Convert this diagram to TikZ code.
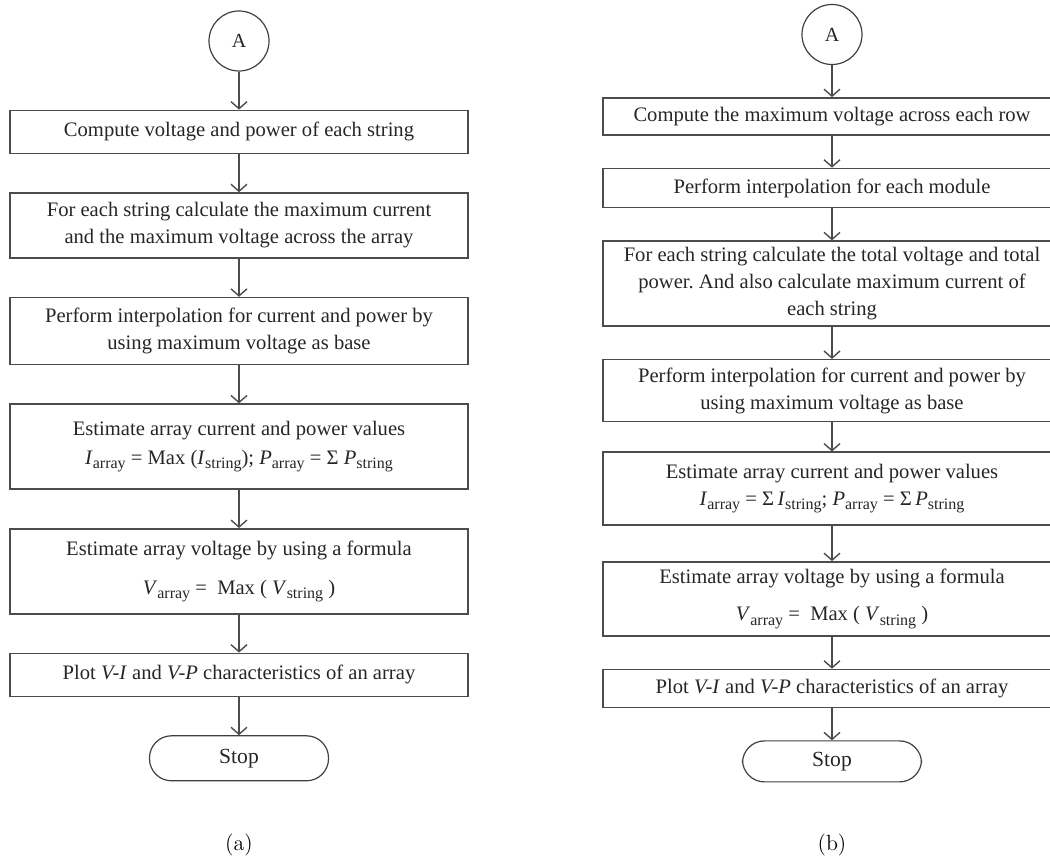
\documentclass[tikz,border=0pt]{standalone}
\usepackage{fontspec}
\newfontfamily\boxfont{Liberation Serif}
\usetikzlibrary{positioning,arrows.meta}
\newcommand\lowsub[1]{\raisebox{-0.45ex}{\fontsize{8}{8}\selectfont #1}}

\begin{document}
\begin{tikzpicture}[
    step-box/.style = {draw=black!70, line width=0.8pt, rectangle, text centered, align=center,
                       minimum width=229pt, inner sep=2pt, text=black!85,
                       font=\boxfont\fontsize{10.3}{13.5}\selectfont},
    conn-circ/.style = {draw=black!75, line width=0.6pt, circle, minimum size=30pt, inner sep=0pt,
                        text=black!85, font=\boxfont\fontsize{10}{12}\selectfont},
    stop-box/.style = {draw=black!75, line width=0.6pt, rectangle, rounded corners=11pt,
                       minimum width=89.5pt, text=black!85, font=\boxfont\fontsize{10.8}{12}\selectfont},
    flow/.style = {draw=black!70, line width=0.7pt, -{Straight Barb[length=3.5pt,width=8pt]}},
    node distance = 19pt
  ]
  \useasboundingbox (0,0) rectangle (525pt,-432.5pt);
  \clip (0,0) rectangle (525pt,-432.5pt);

  % (a)
  \node[conn-circ] (a0) at (119.5pt,-20.5pt) {A};
  \node[step-box, minimum height=21.5pt, below=of a0] (a1) {Compute voltage and power of each string};
  \node[step-box, minimum height=32.5pt, below=of a1] (a2) {For each string calculate the maximum current\\and the maximum voltage across the array};
  \node[step-box, minimum height=33.5pt, below=of a2] (a3) {Perform interpolation for current and power by\\using maximum voltage as base};
  \node[step-box, minimum height=42.5pt, below=of a3] (a4) {Estimate array current and power values\\[1pt]
    \textit{I}\lowsub{array} = Max (\textit{I}\lowsub{string}); \textit{P}\lowsub{array} = Σ \textit{P}\lowsub{string}};
  \node[step-box, minimum height=42.5pt, below=of a4] (a5) {Estimate array voltage by using a formula\\[6pt]
    \textit{V}\lowsub{array} = \ Max ( \textit{V}\lowsub{string} )};
  \node[step-box, minimum height=21.5pt, below=of a5] (a6) {Plot \textit{V-I} and \textit{V-P} characteristics of an array};
  \node[stop-box, minimum height=22.5pt, below=of a6] (a7) {Stop};

  \draw[flow] (a0) -- (a1);
  \draw[flow] (a1) -- (a2);
  \draw[flow] (a2) -- (a3);
  \draw[flow] (a3) -- (a4);
  \draw[flow] (a4) -- (a5);
  \draw[flow] (a5) -- (a6);
  \draw[flow] (a6) -- (a7);

  % (b)
  \begin{scope}[node distance=16pt]
  \node[conn-circ] (b0) at (416pt,-17.25pt) {A};
  \node[step-box, minimum height=18.5pt, below=of b0] (b1) {Compute the maximum voltage across each row};
  \node[step-box, minimum height=19.5pt, below=of b1] (b2) {Perform interpolation for each module};
  \node[step-box, minimum height=42.5pt, below=of b2] (b3) {For each string calculate the total voltage and total\\power.\ And also calculate maximum current of\\each string};
  \node[step-box, minimum height=31pt, below=of b3] (b4) {Perform interpolation for current and power by\\using maximum voltage as base};
  \node[step-box, minimum height=36.5pt, below=14.5pt of b4] (b5) {Estimate array current and power values\\
    \textit{I}\lowsub{array} = Σ\,\textit{I}\lowsub{string}; \textit{P}\lowsub{array} = Σ\,\textit{P}\lowsub{string}};
  \node[step-box, minimum height=37pt, below=17.5pt of b5] (b6) {Estimate array voltage by using a formula\\[5pt]
    \textit{V}\lowsub{array} = \ Max ( \textit{V}\lowsub{string} )};
  \node[step-box, minimum height=19pt, below=of b6] (b7) {Plot \textit{V-I} and \textit{V-P} characteristics of an array};
  \node[stop-box, minimum height=20.5pt, below=of b7] (b8) {Stop};
  \end{scope}

  \draw[flow] (b0) -- (b1);
  \draw[flow] (b1) -- (b2);
  \draw[flow] (b2) -- (b3);
  \draw[flow] (b3) -- (b4);
  \draw[flow] (b4) -- (b5);
  \draw[flow] (b5) -- (b6);
  \draw[flow] (b6) -- (b7);
  \draw[flow] (b7) -- (b8);

  % captions
  \node[font=\fontsize{11}{13}\selectfont] (capa) at (119.5pt,-422.5pt) {(a)};
  \node[font=\fontsize{11}{13}\selectfont] (capb) at (416pt,-422.5pt) {(b)};
\end{tikzpicture}
\end{document}
